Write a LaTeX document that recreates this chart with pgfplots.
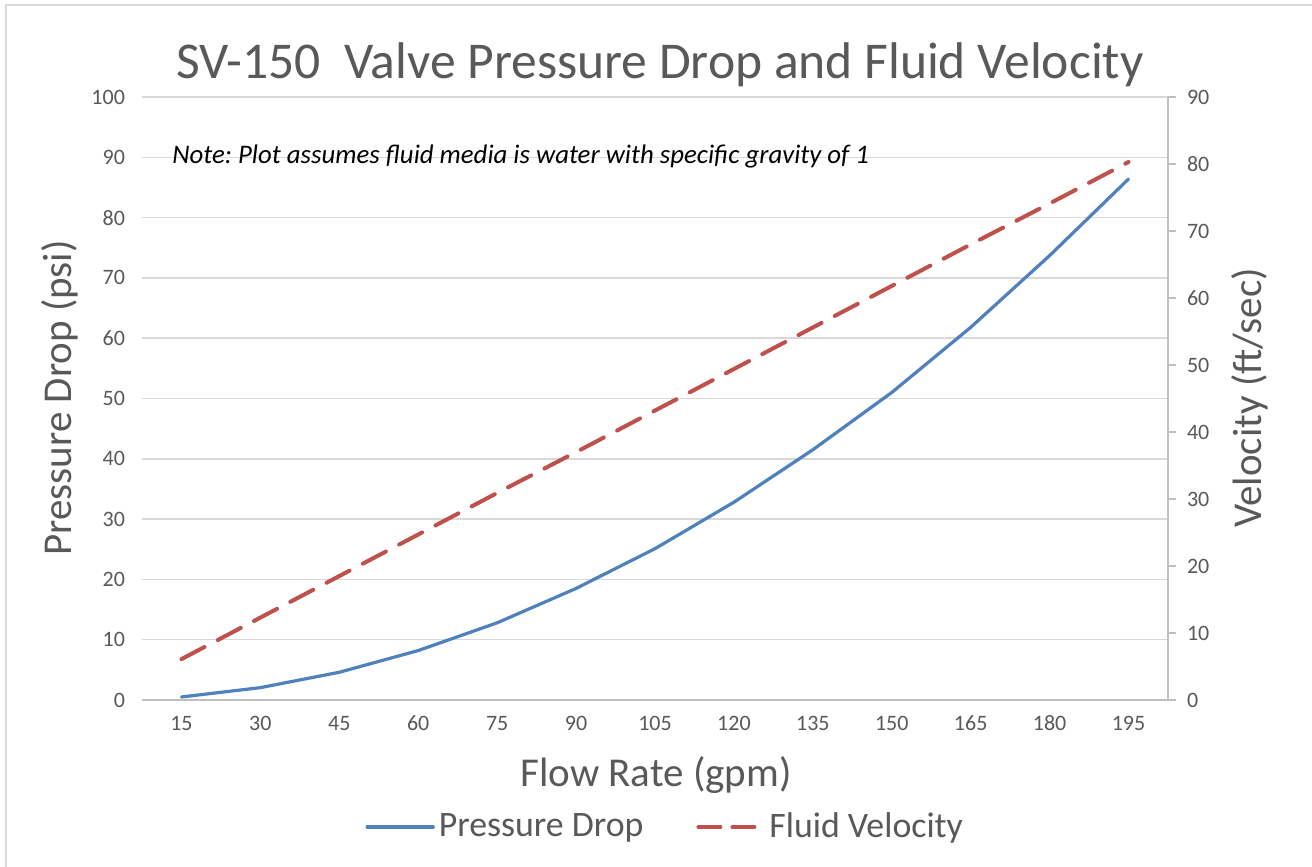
\documentclass[border=0pt]{standalone}
\usepackage{fontspec}
\setmainfont{Carlito}
\usepackage{pgfplots}
\pgfplotsset{compat=1.18}
\frenchspacing
\definecolor{txt}{HTML}{595959}
\definecolor{grid}{HTML}{D9D9D9}
\definecolor{axisgray}{HTML}{BFBFBF}
\definecolor{pblue}{HTML}{4F81BD}
\definecolor{vred}{HTML}{C0504D}
\begin{document}
\begin{tikzpicture}
\useasboundingbox (-71pt,-83.5pt) rectangle (585pt,350pt);
\fill[white] (-71pt,-83.5pt) rectangle (585pt,350pt);
\draw[grid, line width=0.75pt] (-68pt,-83.5pt) -- (-68pt,347.5pt) -- (585pt,347.5pt);
\begin{axis}[
  at={(0,0)}, anchor=south west,
  scale only axis, width=513pt, height=301.5pt,
  xmin=-0.5, xmax=12.5, ymin=0, ymax=100,
  xtick={0,...,12},
  xticklabels={15,30,45,60,75,90,105,120,135,150,165,180,195},
  ytick={0,10,...,100},
  axis x line*=bottom, axis y line*=left,
  x axis line style={draw=axisgray, line width=0.75pt, -},
  y axis line style={draw=none},
  xtick style={draw=none}, ytick style={draw=none},
  ymajorgrids, major grid style={draw=grid, line width=0.75pt},
  /pgf/number format/assume math mode=true,
  tick label style={font=\fontsize{11}{13}\selectfont, text=txt},
  xticklabel style={yshift=-4pt, text height=7.5pt, text depth=0pt},
  yticklabel style={xshift=-5pt},
  xlabel={Flow Rate (gpm)},
  ylabel={Pressure Drop (psi)},
  label style={font=\fontsize{20.5}{24}\selectfont, text=txt},
  xlabel style={at={(axis description cs:0.501,-0.124)}, anchor=center},
  ylabel style={at={(axis description cs:-0.0799,0.501)}, anchor=center},
  legend columns=2,
  legend style={at={(axis description cs:0.511,-0.2106)}, anchor=center,
    draw=none, fill=none, font=\fontsize{17.9}{20}\selectfont, text=txt,
    /tikz/every even column/.append style={column sep=24pt}},
  legend image code/.code={\draw[#1] (0pt,0pt) -- (33pt,0pt);},
  clip=false,
]
\addplot[pblue, line width=1.6pt, line cap=round, line join=round] coordinates {
(0,0.5) (1,2.05) (2,4.6) (3,8.2) (4,12.8) (5,18.5) (6,25.1) (7,32.8) (8,41.5) (9,51.0) (10,61.8) (11,73.7) (12,86.4)};
\addlegendentry{Pressure Drop}
\addlegendimage{vred, line width=2pt, line cap=round, dash pattern=on 11pt off 6pt, dash phase=-0.5pt}
\addlegendentry{Fluid Velocity}
\node[anchor=base, font=\fontsize{25.8}{30}\selectfont, text=txt] at (axis description cs:0.505,1.0315) {SV-150\ \ Valve Pressure Drop and Fluid Velocity};
\node[anchor=base west, font=\fontsize{13.4}{16}\selectfont\itshape, text=black, inner sep=0pt] at (axis description cs:0.0292,0.8905) {Note: Plot assumes fluid media is water with specific gravity of 1};
\end{axis}
\begin{axis}[
  at={(0,0)}, anchor=south west,
  scale only axis, width=513pt, height=301.5pt,
  xmin=-0.5, xmax=12.5, ymin=0, ymax=90,
  ytick={0,10,...,90},
  axis x line=none, axis y line*=right,
  y axis line style={draw=axisgray, line width=0.75pt, -},
  ytick style={draw=axisgray, line width=0.75pt},
  tick align=outside, major tick length=4pt,
  /pgf/number format/assume math mode=true,
  tick label style={font=\fontsize{11}{13}\selectfont, text=txt},
  yticklabel style={xshift=2pt},
  ylabel={Velocity (ft/sec)},
  label style={font=\fontsize{20.5}{24}\selectfont, text=txt},
  ylabel style={at={(axis description cs:1.0799,0.501)}, anchor=center},
  clip=false,
]
\addplot[vred, line width=2pt, line cap=round, dash pattern=on 13pt off 7.5pt] coordinates {
(0,6.1) (1,12.3) (2,18.5) (3,24.7) (4,30.9) (5,37.0) (6,43.2) (7,49.4) (8,55.6) (9,61.8) (10,68.0) (11,74.1) (12,80.3)};
\end{axis}
\end{tikzpicture}
\end{document}
